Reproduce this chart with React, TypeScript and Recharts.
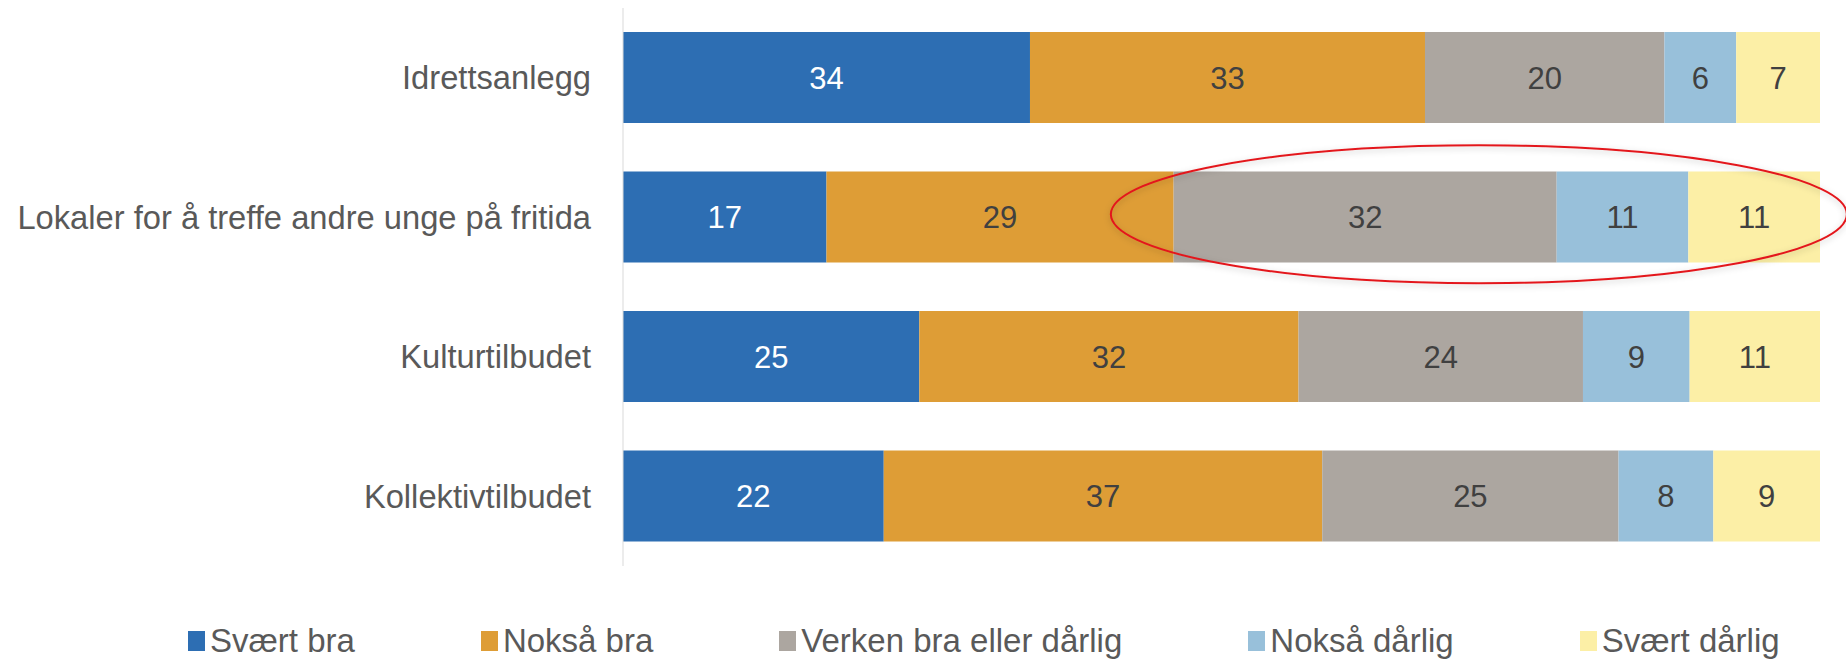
import React from "react";
import {
  BarChart,
  Bar,
  XAxis,
  YAxis,
  Legend,
  LabelList,
  ReferenceDot,
} from "recharts";

// kategorier og verdier (prosent)
const categories = [
  "Idrettsanlegg",
  "Lokaler for å treffe andre unge på fritida",
  "Kulturtilbudet",
  "Kollektivtilbudet",
];
const svaertBra = [34, 17, 25, 22];
const noksaBra = [33, 29, 32, 37];
const verken = [20, 32, 24, 25];
const noksaDarlig = [6, 11, 9, 8];
const svaertDarlig = [7, 11, 11, 9];

const seriesKeys = ["s0", "s1", "s2", "s3", "s4"];
const seriesNames = [
  "Svært bra",
  "Nokså bra",
  "Verken bra eller dårlig",
  "Nokså dårlig",
  "Svært dårlig",
];
const seriesColors = ["#2d6eb3", "#de9d36", "#aca6a0", "#98c0da", "#fcefa6"];
const labelColors = ["#ffffff", "#404040", "#404040", "#404040", "#404040"];

// markert område (rød ellipse) rundt rad 2
const highlightRow = categories[1];
const highlightX = 0.715;

const FONT = '"Liberation Sans", Arial, sans-serif';

const data = categories.map((name, i) => ({
  name,
  s0: svaertBra[i],
  s1: noksaBra[i],
  s2: verken[i],
  s3: noksaDarlig[i],
  s4: svaertDarlig[i],
}));

const renderLegend = () => (
  <div
    style={{
      display: "flex",
      alignItems: "center",
      paddingLeft: 188,
      height: 40,
      lineHeight: "40px",
      fontFamily: FONT,
      fontSize: 33,
      color: "#595959",
      whiteSpace: "nowrap",
    }}
  >
    {seriesNames.map((n, i) => (
      <div
        key={n}
        style={{ display: "flex", alignItems: "center", marginRight: 126, flexShrink: 0 }}
      >
        <span
          style={{
            display: "inline-block",
            width: 17,
            height: 20,
            background: seriesColors[i],
            marginRight: 5,
          }}
        />
        <span>{n}</span>
      </div>
    ))}
  </div>
);

const HighlightEllipse = (props: any) => {
  const { cx, cy } = props;
  if (cx == null || cy == null) return null;
  return (
    <g>
      <defs>
        <filter id="ellShadow" x="-10%" y="-30%" width="120%" height="160%">
          <feDropShadow dx="0" dy="2" stdDeviation="3" floodColor="#000" floodOpacity="0.22" />
        </filter>
      </defs>
      <ellipse
        cx={cx}
        cy={cy - 3}
        rx={368}
        ry={69}
        fill="none"
        stroke="#e3191c"
        strokeWidth={2}
        filter="url(#ellShadow)"
      />
    </g>
  );
};

export default function App() {
  return (
    <div style={{ position: "absolute", left: 0, top: 0, background: "#fff" }}>
      <BarChart
        width={1846}
        height={660}
        data={data}
        layout="vertical"
        stackOffset="expand"
        margin={{ top: 8, right: 26, bottom: 54, left: 0 }}
      >
        <XAxis type="number" hide domain={[0, 1]} />
        <YAxis
          type="category"
          dataKey="name"
          width={623}
          axisLine={{ stroke: "#d9d9d9" }}
          tickLine={false}
          tickSize={0}
          tickMargin={32}
          tick={{ fill: "#595959", fontSize: 32.7, fontFamily: FONT }}
        />
        {seriesKeys.map((k, i) => (
          <Bar
            key={k}
            dataKey={k}
            name={seriesNames[i]}
            stackId="a"
            fill={seriesColors[i]}
            barSize={91}
            isAnimationActive={false}
          >
            <LabelList
              dataKey={k}
              position="center"
              fill={labelColors[i]}
              fontSize={31}
              fontFamily={FONT}
            />
          </Bar>
        ))}
        <ReferenceDot
          x={highlightX}
          y={highlightRow}
          ifOverflow="visible"
          shape={HighlightEllipse}
        />
        <Legend
          verticalAlign="bottom"
          content={renderLegend}
          wrapperStyle={{ top: 621, bottom: "auto", left: 0, width: 1846 }}
        />
      </BarChart>
    </div>
  );
}
